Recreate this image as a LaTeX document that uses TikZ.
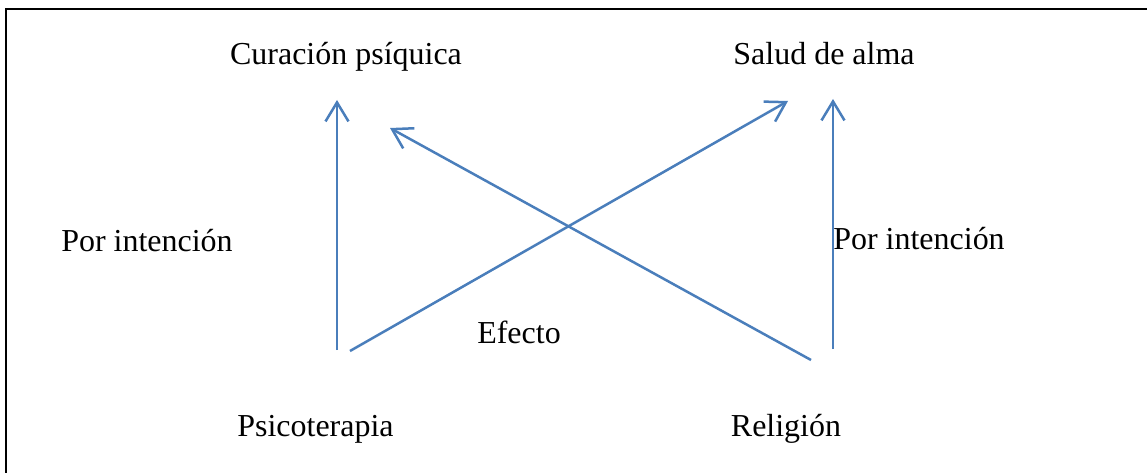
\documentclass[tikz,border=0pt]{standalone}
\usepackage{fontspec}
\setmainfont{Liberation Serif}
\usetikzlibrary{arrows.meta}

\definecolor{arrowblue}{RGB}{74, 126, 187}

\begin{document}
\begin{tikzpicture}[x=0.02cm, y=-0.02cm,
    label text/.style={anchor=base, inner sep=0pt, font=\fontsize{18.2}{22}\selectfont},
    flow/.style={arrowblue, line width=0.05cm, -{Straight Barb[length=0.38cm, width=0.46cm, line width=0.05cm]}}]

  \useasboundingbox (0,0) rectangle (1147,473);

  % Frame (only left and top edges are visible)
  \draw [line width=0.055cm] (6,473) -- (6,9) -- (1147,9);

  % Labels
  \node[label text] (cura) at (346,65) {Curación psíquica};
  \node[label text] (salud) at (824,65) {Salud de alma};
  \node[label text] (intleft) at (147,252) {Por intención};
  \node[label text] (intright) at (919,250) {Por intención};
  \node[label text] (efecto) at (519,343) {Efecto};
  \node[label text] (psico) at (315.5,436) {Psicoterapia};
  \node[label text] (relig) at (786,436) {Religión};

  % Arrow ends
  \coordinate (psi-up) at (337,350);
  \coordinate (psi-diag) at (350,351);
  \coordinate (rel-diag) at (811,360);
  \coordinate (rel-up) at (833,349);
  \coordinate (cura-up) at (337,100);
  \coordinate (cura-diag) at (390,128);
  \coordinate (salud-diag) at (788,101);
  \coordinate (salud-up) at (833,99);

  % Arrows
  \draw[flow] (psi-up) -- (cura-up);
  \draw[flow] (rel-diag) -- (cura-diag);
  \draw[flow] (psi-diag) -- (salud-diag);
  \draw[flow] (rel-up) -- (salud-up);

\end{tikzpicture}
\end{document}
